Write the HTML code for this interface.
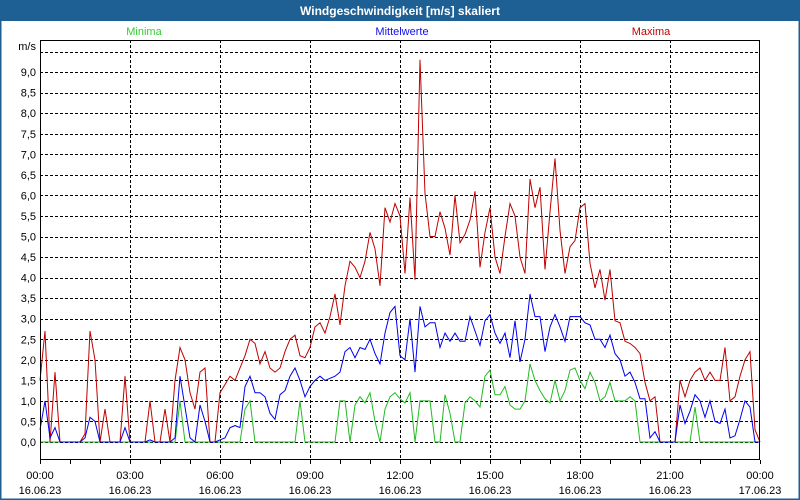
<!DOCTYPE html>
<html><head><meta charset="utf-8"><style>
html,body{margin:0;padding:0;background:#fff}
#wrap{position:relative;width:800px;height:500px;overflow:hidden;font-family:"Liberation Sans","DejaVu Sans",sans-serif}
</style></head><body>
<div id="wrap">
<svg id="chart" width="800" height="500" xmlns="http://www.w3.org/2000/svg">
<rect x="0" y="0" width="800" height="500" fill="#fff"/>
<rect x="0.5" y="0.5" width="799" height="499" fill="none" stroke="#1e5f94" stroke-width="2"/>
<rect x="0" y="0" width="800" height="21" fill="#1e5f94"/>
<text x="400" y="15" text-anchor="middle" font-size="12" font-weight="bold" fill="#fff">Windgeschwindigkeit [m/s] skaliert</text>
<text x="144" y="35" text-anchor="middle" font-size="11" fill="#33cc33">Minima</text>
<text x="402" y="35" text-anchor="middle" font-size="11" fill="#1010ee">Mittelwerte</text>
<text x="651" y="35" text-anchor="middle" font-size="11" fill="#c00000">Maxima</text>
<text x="36" y="50" text-anchor="end" font-size="11" fill="#000">m/s</text>
<g id="grid"></g>
<g id="series"></g>
<rect x="40.5" y="40.5" width="719" height="419" fill="none" stroke="#000" stroke-width="1"/>
<g id="axes"></g>
</svg>
</div>
<script>
const hours = [0,3,6,9,12,15,18,21,24];
const xLabels = ["00:00","03:00","06:00","09:00","12:00","15:00","18:00","21:00","00:00"];
const dateLabels = ["16.06.23","16.06.23","16.06.23","16.06.23","16.06.23","16.06.23","16.06.23","16.06.23","17.06.23"];
const yTicks = [0,0.5,1,1.5,2,2.5,3,3.5,4,4.5,5,5.5,6,6.5,7,7.5,8,8.5,9];
const yTickLabels = ["0,0","0,5","1,0","1,5","2,0","2,5","3,0","3,5","4,0","4,5","5,0","5,5","6,0","6,5","7,0","7,5","8,0","8,5","9,0"];
// 10-minute samples, 00:00 .. 24:00
const maxima = [1.5,2.7,0,1.7,0,0,0,0,0,0.2,2.7,2.0,0,0.8,0,0,0,1.6,0,0,0,0,1.0,0,0,0.8,0,1.5,2.3,2.0,1.2,0.8,1.7,1.8,0,0,1.2,1.4,1.6,1.5,1.8,2.1,2.5,2.4,1.9,2.2,1.8,1.7,1.8,2.2,2.5,2.6,2.1,2.05,2.3,2.8,2.9,2.65,3.05,3.6,2.85,3.8,4.4,4.25,4.0,4.4,5.1,4.7,3.8,5.7,5.35,5.8,5.5,4.1,5.95,3.95,9.3,6.05,5.0,5.0,5.6,5.2,4.55,6.0,4.85,5.05,5.4,6.1,4.25,5.1,5.7,4.5,4.1,5.0,5.8,5.5,4.5,4.1,6.4,5.7,6.2,4.2,5.6,6.9,5.15,4.1,4.75,4.9,5.7,5.8,4.35,3.75,4.2,3.45,4.2,2.95,2.9,2.45,2.4,2.3,2.15,1.45,1.0,1.1,0,0,0,0,1.5,1.1,1.5,1.7,1.8,1.5,1.7,1.5,1.5,2.3,1.0,1.1,1.6,2.0,2.2,0.3,0];
const means = [0.3,1.0,0.1,0.35,0,0,0,0,0,0.1,0.6,0.5,0,0,0,0,0,0.35,0,0,0,0,0.05,0,0,0,0,0.1,1.6,0.85,0.1,0,0.9,0.5,0,0,0.05,0.1,0.35,0.4,0.35,1.35,1.6,1.2,1.2,1.1,0.7,0.55,1.15,1.25,1.6,1.8,1.5,1.1,1.35,1.5,1.6,1.5,1.55,1.6,1.7,2.2,2.3,2.05,2.3,2.25,2.5,2.15,1.9,2.65,3.15,3.3,2.1,2.0,3.0,1.7,3.3,2.8,2.9,2.9,2.3,2.65,2.45,2.65,2.45,2.45,3.05,2.7,2.35,2.95,3.1,2.65,2.4,2.65,2.05,2.95,1.95,2.5,3.6,3.05,3.05,2.2,2.8,3.1,2.8,2.45,3.05,3.05,3.05,2.9,2.85,2.5,2.5,2.3,2.6,2.15,2.0,1.6,1.7,1.45,1.05,1.05,0.1,0.25,0,0,0,0,0.9,0.45,0.75,1.15,1.0,0.6,1.0,0.5,0.45,0.8,0.1,0.15,0.55,1.0,0.85,0,0];
const minima = [0,0,0,0,0,0,0,0,0,0,0,0,0,0,0,0,0,0,0,0,0,0,0,0,0,0,0,0,1.0,0,0,0,0,0,0,0,0,0,0,0,0,0.8,1.0,0,0,0,0,0,0,0,0,0,1.0,0,0,0,0,0,0,0,1.0,1.0,0,0.9,1.1,0.95,1.2,0.5,0,0.8,1.1,1.2,1.05,0.95,1.2,0,1.0,1.0,1.0,0,0,1.15,0.7,0,0,0.95,1.1,1.0,0.85,1.6,1.75,1.15,1.15,1.35,0.9,0.8,0.8,1.0,1.9,1.5,1.25,1.05,0.95,1.5,1.0,1.25,1.75,1.8,1.5,1.3,1.7,1.45,1.0,1.1,1.45,1.0,1.0,1.0,1.1,1.0,0,0,0,0,0,0,0,0,0,0,0,0.85,0,0,0,0,0,0,0,0,0,0,0,0,0];

const NS = "http://www.w3.org/2000/svg";
const X0 = 40, X1 = 760, Y0 = 442, PX_PER_UNIT = 41.1;
function xHour(h){ return X0 + (X1 - X0) * h / 24; }
function xIdx(i, n){ return X0 + (X1 - X0) * i / (n - 1); }
function yVal(v){ return Y0 - v * PX_PER_UNIT; }
function mk(tag, attrs){ const e = document.createElementNS(NS, tag); for (const k in attrs) e.setAttribute(k, attrs[k]); return e; }

const grid = document.getElementById('grid');
const axes = document.getElementById('axes');
const gridVals = yTicks.concat([9.5]);
gridVals.forEach(v => {
  const y = Math.round(yVal(v)) + 0.5;
  const l = mk('line', {x1: X0, x2: X1, y1: y, y2: y, stroke: '#000', 'stroke-width': 1, 'stroke-dasharray': '3,2'});
  
  
  grid.appendChild(l);
});
yTicks.forEach((v, i) => {
  const t = mk('text', {x: 36, y: yVal(v) + 4, 'text-anchor': 'end', 'font-size': 11, fill: '#000'});
  t.textContent = yTickLabels[i];
  
  
  axes.appendChild(t);
});
hours.forEach((h, i) => {
  const x = Math.round(xHour(h)) + 0.5;
  if (h > 0 && h < 24) {
    const l = mk('line', {x1: x, x2: x, y1: 40, y2: 460, stroke: '#000', 'stroke-width': 1, 'stroke-dasharray': '3,2'});
    
    
    grid.appendChild(l);
  }
  const t1 = mk('text', {x: xHour(h), y: 479, 'text-anchor': 'middle', 'font-size': 11, fill: '#000'});
  t1.textContent = xLabels[i];
  
  
  axes.appendChild(t1);
  const t2 = mk('text', {x: xHour(h), y: 494, 'text-anchor': 'middle', 'font-size': 11, fill: '#000'});
  t2.textContent = dateLabels[i];
  
  
  axes.appendChild(t2);
});
for (let h = 0; h <= 24; h++) {
  const x = Math.round(xHour(h)) + 0.5;
  const tk = mk('line', {x1: x, x2: x, y1: 460, y2: 464, stroke: '#000', 'stroke-width': 1});
  
  
  axes.appendChild(tk);
}

const series = document.getElementById('series');
function drawSeries(arr, color, name){
  const pts = arr.map((v, i) => xIdx(i, arr.length).toFixed(1) + ',' + yVal(v).toFixed(1)).join(' ');
  const p = mk('polyline', {points: pts, fill: 'none', stroke: color, 'stroke-width': 1, 'stroke-linejoin': 'miter'});
  
  
  series.appendChild(p);
}
drawSeries(minima, '#22bb22', 'minima-line');
drawSeries(maxima, '#c00000', 'maxima-line');
drawSeries(means, '#0000ee', 'mittelwerte-line');
</script>
</body></html>
